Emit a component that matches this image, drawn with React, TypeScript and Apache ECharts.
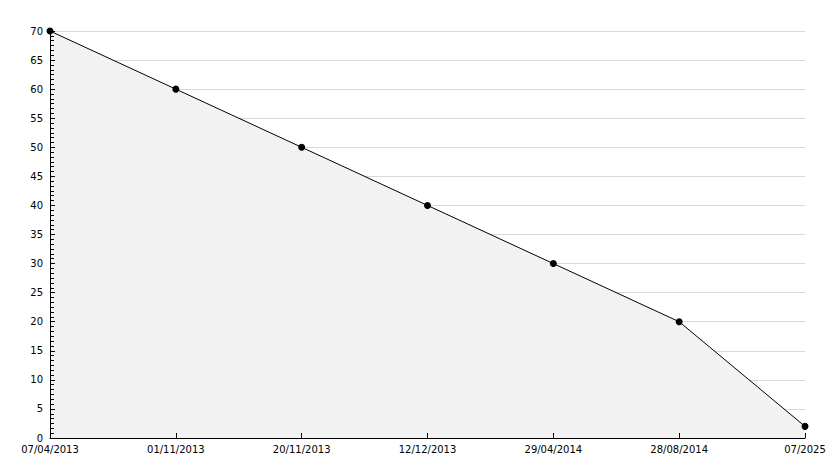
import React, { useEffect, useRef } from "react";
import * as echarts from "echarts";

const categories = ["07/04/2013", "01/11/2013", "20/11/2013", "12/12/2013", "29/04/2014", "28/08/2014", "07/2025"];
const values = [70, 60, 50, 40, 30, 20, 2];

export default function App() {
  const ref = useRef<HTMLDivElement>(null);
  useEffect(() => {
    if (!ref.current) return;
    const chart = echarts.init(ref.current, null, { renderer: "svg" });
    const labelFont = { color: "#000", fontFamily: "DejaVu Sans", fontSize: 10 };
    chart.setOption({
      animation: false,
      backgroundColor: "#ffffff",
      grid: { left: 50, right: 29, top: 31, bottom: 30, containLabel: false },
      xAxis: {
        type: "category",
        data: categories,
        boundaryGap: false,
        z: 5,
        axisLine: { lineStyle: { color: "#000", width: 1 } },
        axisTick: { show: true, inside: true, length: 5, lineStyle: { color: "#000" }, alignWithLabel: true, interval: 0 },
        axisLabel: { ...labelFont, margin: 6, interval: 0 },
        splitLine: { show: false },
      },
      yAxis: [
        {
          type: "value",
          min: 0,
          max: 70,
          interval: 5,
          z: 0,
          axisLine: { show: false },
          axisTick: { show: false },
          axisLabel: { ...labelFont, margin: 7 },
          splitLine: { show: true, lineStyle: { color: "#d9d9d9", width: 1 } },
        },
        {
          type: "value",
          position: "left",
          min: 0,
          max: 70,
          interval: 5,
          z: 5,
          axisLine: { show: true, onZero: false, lineStyle: { color: "#000", width: 1 } },
          axisTick: { show: true, inside: true, length: 5, lineStyle: { color: "#000" } },
          minorTick: { show: true, splitNumber: 6, length: 4, lineStyle: { color: "#000" } },
          axisLabel: { show: false },
          splitLine: { show: false },
        },
      ],
      series: [
        {
          type: "line",
          data: values,
          yAxisIndex: 0,
          symbol: "circle",
          symbolSize: 7,
          itemStyle: { color: "#000" },
          lineStyle: { color: "#000", width: 1 },
          areaStyle: { color: "#f2f2f2", opacity: 1 },
          z: 2,
        },
      ],
    });
    return () => chart.dispose();
  }, []);
  return <div ref={ref} style={{ position: "fixed", left: 0, top: 0, width: 834, height: 468 }} />;
}
